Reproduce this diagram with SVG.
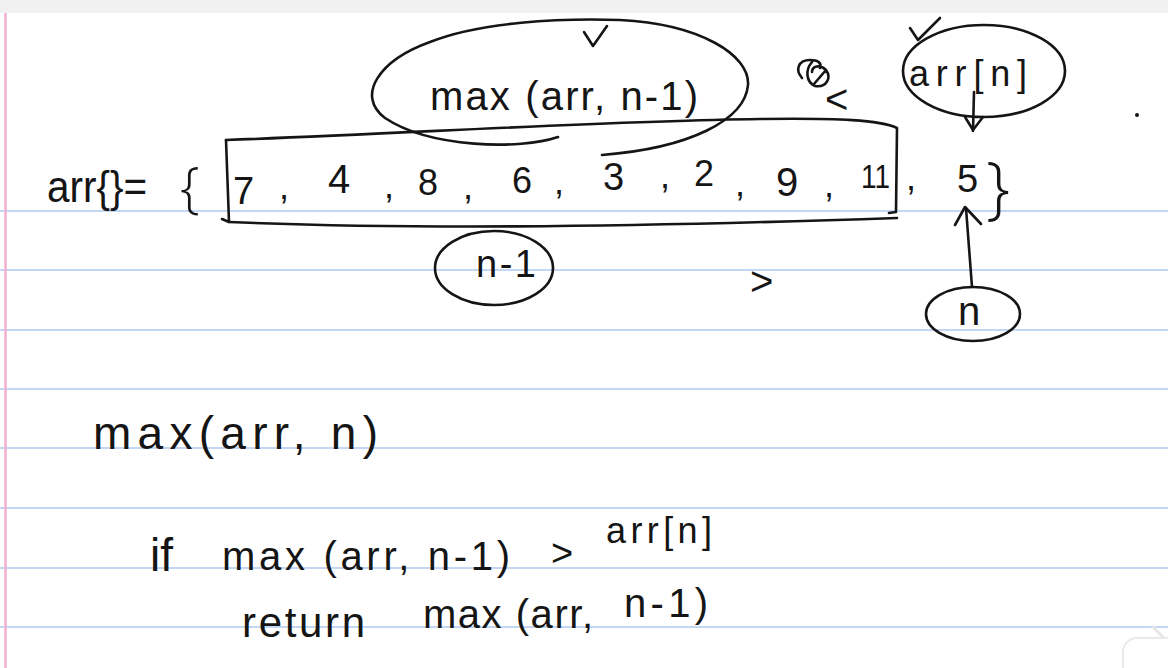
<svg xmlns="http://www.w3.org/2000/svg" width="1168" height="668" viewBox="0 0 1168 668">
<style>
.ink{fill:none;stroke:#151515;stroke-width:2.6;stroke-linecap:round;stroke-linejoin:round}
.t{font-family:"Liberation Sans","Noto Sans",sans-serif;fill:#151515}
.br{font-family:"Open Sans","Noto Sans","Liberation Sans",sans-serif;font-weight:300;fill:#151515}
.rule{stroke:#c3d6f3;stroke-width:2}
</style>
<rect x="0" y="0" width="1168" height="668" fill="#ffffff"/>
<rect x="0" y="0" width="1168" height="13" fill="#f1f1f1"/>
<g id="paper">
<line class="rule" x1="0" y1="211" x2="1168" y2="211"/>
<line class="rule" x1="0" y1="270" x2="1168" y2="270"/>
<line class="rule" x1="0" y1="330" x2="1168" y2="330"/>
<line class="rule" x1="0" y1="389" x2="1168" y2="389"/>
<line class="rule" x1="0" y1="448" x2="1168" y2="448"/>
<line class="rule" x1="0" y1="508" x2="1168" y2="508"/>
<line class="rule" x1="0" y1="568" x2="1168" y2="568"/>
<line class="rule" x1="0" y1="627" x2="1168" y2="627"/>
<line x1="5.5" y1="13" x2="5.5" y2="668" stroke="#f0aed3" stroke-width="2.5"/>
</g>

<g id="array-line">
<text class="t" x="47" y="202" font-size="44" textLength="100" lengthAdjust="spacingAndGlyphs">arr{}=</text>
<text class="br" x="180" y="207" font-size="56">{</text>
<text class="t" x="233" y="204" font-size="38">7</text>
<text class="t" x="279" y="199" font-size="36">,</text>
<text class="t" x="328" y="193" font-size="40">4</text>
<text class="t" x="384" y="198" font-size="36">,</text>
<text class="t" x="418" y="195" font-size="36">8</text>
<text class="t" x="463" y="199" font-size="36">,</text>
<text class="t" x="512" y="193" font-size="36">6</text>
<text class="t" x="554" y="194" font-size="36">,</text>
<text class="t" x="603" y="190" font-size="38">3</text>
<text class="t" x="660" y="188" font-size="36">,</text>
<text class="t" x="694" y="186" font-size="36">2</text>
<text class="t" x="735" y="196" font-size="36">,</text>
<text class="t" x="776" y="196" font-size="40">9</text>
<text class="t" x="824" y="197" font-size="36">,</text>
<text class="t" x="861" y="188" font-size="34" textLength="29" lengthAdjust="spacingAndGlyphs">11</text>
<text class="t" x="906" y="190" font-size="36">,</text>
<text class="t" x="957" y="192" font-size="38">5</text>
<text class="br" x="986" y="211" font-size="68">}</text>
</g>

<g id="box-n-1">
<path class="ink" d="M226 140 C400 134 600 121 760 119 C840 118 880 120 897 128 L896 212 L889 213"/>
<path class="ink" d="M226 140 L229 222 L222 219"/>
<path class="ink" d="M229 222 C400 229 600 228 897 218"/>
</g>

<g id="node-max-n-1">
<path class="ink" d="M558 137 C520 150 430 148 385 118 C355 95 380 60 430 42 C480 22 560 18 620 20 C700 24 750 55 748 85 C745 120 690 148 602 155"/>
<text class="t" x="430" y="110" font-size="40" textLength="268" lengthAdjust="spacing">max (arr, n-1)</text>
<path class="ink" d="M584 32 L593 46 L607 26"/>
</g>

<g id="scribble">
<path class="ink" d="M802 78 C795 70 798 60 810 60 C818 60 822 63 820 68 M812 62 C805 70 806 82 815 86 C826 88 832 78 826 70 C820 64 812 66 812 72 M826 70 L814 84"/>
<text class="t" x="825" y="113" font-size="40">&lt;</text>
</g>

<g id="node-arr-n">
<ellipse class="ink" cx="984" cy="71" rx="81" ry="46"/>
<text class="t" x="909" y="86" font-size="36" textLength="118" lengthAdjust="spacing">arr[n]</text>
<path class="ink" d="M910 28 L918 40 L940 18"/>
</g>

<g id="node-n-1">
<ellipse class="ink" cx="494" cy="268" rx="59" ry="37"/>
<text class="t" x="476" y="277" font-size="38" textLength="60" lengthAdjust="spacing">n-1</text>
</g>

<text class="t" x="750" y="295" font-size="40">&gt;</text>

<g id="node-n">
<ellipse class="ink" cx="973" cy="314" rx="47" ry="27"/>
<text class="t" x="958" y="325" font-size="40">n</text>
</g>

<circle cx="1137" cy="115" r="2" fill="#151515"/>

<g id="connectors">
<path class="ink" d="M974 92 L973 131"/>
<path class="ink" d="M965 117 L973 130 L983 117"/>
<path class="ink" d="M972 287 L966 208"/>
<path class="ink" d="M955 225 L965 207 L981 224"/>
</g>

<g id="code">
<text class="t" x="93" y="449" font-size="46" textLength="285" lengthAdjust="spacing">max(arr, n)</text>
<text class="t" x="150" y="571" font-size="46">if</text>
<text class="t" x="222" y="570" font-size="40" textLength="288" lengthAdjust="spacing">max (arr, n-1)</text>
<text class="t" x="551" y="566" font-size="38">&gt;</text>
<text class="t" x="606" y="543" font-size="36" textLength="106" lengthAdjust="spacing">arr[n]</text>
<text class="t" x="242" y="637" font-size="42" textLength="123" lengthAdjust="spacing">return</text>
<text class="t" x="423" y="628" font-size="40" textLength="170" lengthAdjust="spacing">max (arr,</text>
<text class="t" x="624" y="617" font-size="40" textLength="84" lengthAdjust="spacing">n-1)</text>
</g>

<g id="corner">
<line x1="1152" y1="626" x2="1168" y2="642" stroke="#e6e6e6" stroke-width="3"/>
<rect x="1123" y="638" width="70" height="50" rx="14" fill="#ffffff" stroke="#e9e9e9" stroke-width="2"/>
</g>
</svg>
